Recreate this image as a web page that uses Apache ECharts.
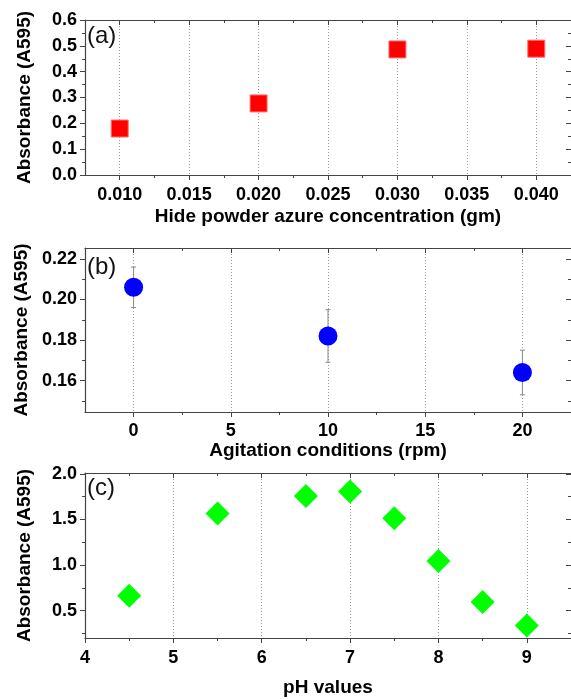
<!DOCTYPE html>
<html>
<head>
<meta charset="utf-8">
<script src="https://cdn.jsdelivr.net/npm/echarts@6/dist/echarts.min.js"></script>
<style>
  html, body { margin: 0; padding: 0; background: #fff; }
  #chart { width: 571px; height: 699px; }
</style>
</head>
<body>
<div id="chart"></div>
<script>
// panel (a)
const concA = [0.010, 0.020, 0.030, 0.040];
const absA = [0.180, 0.277, 0.486, 0.489];
const xTicksA = [0.010, 0.015, 0.020, 0.025, 0.030, 0.035, 0.040];
const xMinorA = [0.0125, 0.0175, 0.0225, 0.0275, 0.0325, 0.0375];
const yTicksA = [0, 0.1, 0.2, 0.3, 0.4, 0.5, 0.6];
const yMinorA = [0.05, 0.15, 0.25, 0.35, 0.45, 0.55];

// panel (b)
const rpmB = [0, 10, 20];
const absB = [0.206, 0.182, 0.164];
const errB = [0.010, 0.013, 0.011];
const xTicksB = [0, 5, 10, 15, 20];
const xMinorB = [2.5, 7.5, 12.5, 17.5];
const yTicksB = [0.16, 0.18, 0.20, 0.22];
const yMinorB = [0.15, 0.17, 0.19, 0.21];

// panel (c)
const phC = [4.5, 5.5, 6.5, 7, 7.5, 8, 8.5, 9];
const absC = [0.664, 1.566, 1.759, 1.807, 1.514, 1.044, 0.595, 0.336];
const xTicksC = [4, 5, 6, 7, 8, 9];
const xMinorC = [4.5, 5.5, 6.5, 7.5, 8.5];
const yTicksC = [0.5, 1.0, 1.5, 2.0];
const yMinorC = [0.25, 0.75, 1.25, 1.75];

const FONT = '"Liberation Sans", Arial, sans-serif';
const AX = '#444';

let chart = echarts.init(document.getElementById('chart'));

let xAxis = [], yAxis = [];

// one axis; opt: line, inside, len, label, split, name, nameGap
function axis(gi, pos, r, vals, opt) {
    let a = {
        type: 'value', gridIndex: gi, position: pos, min: r[0], max: r[1],
        axisLine: { show: !!opt.line, onZero: false, lineStyle: { color: AX, width: 1.2 } },
        axisTick: { show: true, inside: !!opt.inside, length: opt.len, customValues: vals, lineStyle: { color: AX, width: 1 } },
        axisLabel: { show: false },
        splitLine: { show: false }
    };
    if (opt.label) {
        a.axisLabel = {
            show: true, customValues: vals, color: '#000', fontWeight: 'bold', fontSize: 18,
            fontFamily: FONT, margin: opt.margin, formatter: opt.label
        };
    }
    if (opt.split) {
        a.splitLine = { show: true, lineStyle: { color: '#9a9a9a', width: 1, type: [1, 2] } };
    }
    if (opt.name) {
        a.name = opt.name;
        a.nameLocation = 'middle';
        a.nameGap = opt.nameGap;
        a.nameTextStyle = { color: '#000', fontWeight: 'bold', fontSize: 19, fontFamily: FONT };
    }
    return a;
}

// full box of axes for one panel, returns index of main x / y axes
function frame(gi, xr, yr, xt, xm, yt, ym, xo, yo) {
    let xi = xAxis.length, yi = yAxis.length;
    xAxis.push(axis(gi, 'bottom', xr, xt, Object.assign({ line: true, len: 5, split: true }, xo)));
    xAxis.push(axis(gi, 'bottom', xr, xm, { len: 3 }));
    xAxis.push(axis(gi, 'top', xr, xt, { line: true, inside: true, len: 5 }));
    xAxis.push(axis(gi, 'top', xr, xm, { inside: true, len: 3 }));
    yAxis.push(axis(gi, 'left', yr, yt, Object.assign({ line: true, len: 5 }, yo)));
    yAxis.push(axis(gi, 'left', yr, ym, { len: 3 }));
    yAxis.push(axis(gi, 'right', yr, yt, { inside: true, len: 5 }));
    yAxis.push(axis(gi, 'right', yr, ym, { inside: true, len: 3 }));
    return { x: xi, y: yi };
}

const yName = 'Absorbance (A595)';

let fa = frame(0, [0.0075, 0.0425], [0, 0.6], xTicksA, xMinorA, yTicksA, yMinorA,
    { label: v => v.toFixed(3), margin: 11, name: 'Hide powder azure concentration (gm)', nameGap: 32 },
    { label: v => v.toFixed(1), margin: 8, name: yName, nameGap: 51 });
let fb = frame(1, [-2.5, 22.5], [0.1445, 0.2254], xTicksB, xMinorB, yTicksB, yMinorB,
    { label: v => String(v), margin: 10, name: 'Agitation conditions (rpm)', nameGap: 28 },
    { label: v => v.toFixed(2), margin: 8, name: yName, nameGap: 53 });
let fc = frame(2, [4, 9.5], [0.2, 2.01], xTicksC, xMinorC, yTicksC, yMinorC,
    { label: v => String(v), margin: 11, name: 'pH values', nameGap: 40 },
    { label: v => v.toFixed(1), margin: 8, name: yName, nameGap: 51 });

let option = {
    animation: false,
    backgroundColor: '#fff',
    textStyle: { fontFamily: FONT },
    grid: [
        { left: 85, right: 0, top: 20, height: 155 },
        { left: 85, right: 0, top: 248, height: 164 },
        { left: 85, right: 0, top: 473, height: 165 }
    ],
    xAxis: xAxis,
    yAxis: yAxis,
    graphic: [
        { type: 'text', left: 87, top: 24, style: { text: '(a)', fontSize: 24, fontFamily: FONT, fill: '#111' } },
        { type: 'text', left: 87, top: 255, style: { text: '(b)', fontSize: 24, fontFamily: FONT, fill: '#111' } },
        { type: 'text', left: 87, top: 476, style: { text: '(c)', fontSize: 24, fontFamily: FONT, fill: '#111' } }
    ],
    series: [
        {
            type: 'scatter', xAxisIndex: fa.x, yAxisIndex: fa.y,
            symbol: 'rect', symbolSize: 17,
            itemStyle: { color: '#ff0000', borderColor: '#ff7070', borderWidth: 1, opacity: 1 },
            data: concA.map((x, i) => [x, absA[i]])
        },
        {
            type: 'custom', xAxisIndex: fb.x, yAxisIndex: fb.y, z: 1,
            data: rpmB.map((x, i) => [x, absB[i] - errB[i], absB[i] + errB[i]]),
            encode: { x: 0, y: [1, 2] },
            renderItem: function (params, api) {
                let x = api.value(0);
                let p1 = api.coord([x, api.value(2)]);
                let p2 = api.coord([x, api.value(1)]);
                let st = { stroke: '#8a8a8a', lineWidth: 1 };
                return {
                    type: 'group', children: [
                        { type: 'line', shape: { x1: p1[0], y1: p1[1], x2: p2[0], y2: p2[1] }, style: st },
                        { type: 'line', shape: { x1: p1[0] - 2.5, y1: p1[1], x2: p1[0] + 2.5, y2: p1[1] }, style: st },
                        { type: 'line', shape: { x1: p2[0] - 2.5, y1: p2[1], x2: p2[0] + 2.5, y2: p2[1] }, style: st }
                    ]
                };
            }
        },
        {
            type: 'scatter', xAxisIndex: fb.x, yAxisIndex: fb.y, z: 3,
            symbol: 'circle', symbolSize: 19,
            itemStyle: { color: '#0000ff', opacity: 1 },
            data: rpmB.map((x, i) => [x, absB[i]])
        },
        {
            type: 'scatter', xAxisIndex: fc.x, yAxisIndex: fc.y,
            symbol: 'diamond', symbolSize: 24,
            itemStyle: { color: '#00ff00', opacity: 1 },
            data: phC.map((x, i) => [x, absC[i]])
        }
    ]
};

chart.setOption(option);
</script>
</body>
</html>
